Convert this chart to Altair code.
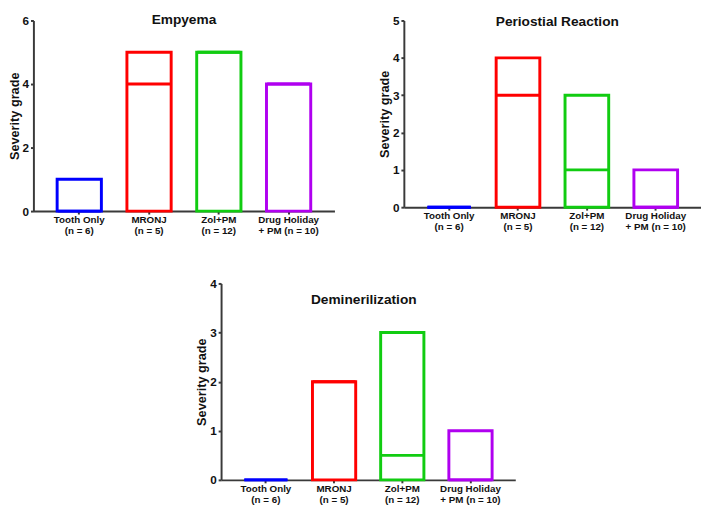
import altair as alt
import pandas as pd

groups = ["Tooth Only", "MRONJ", "Zol+PM", "Drug Holiday"]
group_labels = ["Tooth Only|(n = 6)", "MRONJ|(n = 5)", "Zol+PM|(n = 12)", "Drug Holiday|+ PM (n = 10)"]
colors = ["#0000FF", "#FF0000", "#11CC11", "#B000F0"]

# Empyema
emp_min = [0, 0, 0, 0]
emp_max = [1, 5, 5, 4]
emp_med = [0, 4, 5, 4]
emp_ticks = [0, 2, 4, 6]
# Periostial Reaction
per_min = [0, 0, 0, 0]
per_max = [0, 4, 3, 1]
per_med = [0, 3, 1, 0]
per_ticks = [0, 1, 2, 3, 4, 5]
# Deminerilization
dem_min = [0, 0, 0, 0]
dem_max = [0, 2, 3, 1]
dem_med = [0, 2, 0.5, 0]
dem_ticks = [0, 1, 2, 3, 4]

FONT = "Liberation Sans"
AX = "#3a3a3a"


def panel(title, lo, hi, med, ticks, w, h, tx, ty):
    df = pd.DataFrame({"group": group_labels, "lo": lo, "hi": hi, "med": med})
    xenc = alt.X(
        "group:N",
        sort=group_labels,
        scale=alt.Scale(paddingInner=0.366, paddingOuter=0.34),
        axis=alt.Axis(
            title=None,
            labelAngle=0,
            labelExpr="split(datum.label, '|')",
            labelFontSize=10,
            labelLineHeight=11,
            labelFontWeight="bold",
            labelFont=FONT,
            labelColor="#111",
            labelPadding=1,
            tickSize=3,
        ),
    )
    yscale = alt.Scale(domain=[0, max(ticks)], nice=False)
    yaxis = alt.Axis(
        values=ticks,
        format="d",
        title="Severity grade",
        titleFontSize=13,
        titleFontWeight="bold",
        titleFont=FONT,
        titleColor="#111",
        titlePadding=1,
        labelFontSize=12,
        labelFontWeight="bold",
        labelFont=FONT,
        labelColor="#111",
        labelPadding=2,
        tickSize=3,
        grid=False,
    )
    cscale = alt.Scale(domain=group_labels, range=colors)
    base = alt.Chart(df).encode(x=xenc)
    bars = base.mark_bar(filled=False, strokeWidth=3).encode(
        y=alt.Y("lo:Q", scale=yscale, axis=yaxis),
        y2="hi:Q",
        color=alt.Color("group:N", scale=cscale, legend=None),
    )
    meds = base.mark_tick(thickness=3, size=44, orient="horizontal", opacity=1).encode(
        y=alt.Y("med:Q", scale=yscale, axis=yaxis),
        color=alt.Color("group:N", scale=cscale, legend=None),
    )
    ttl = alt.Chart(pd.DataFrame({"t": [title]})).mark_text(
        fontSize=14, fontWeight="bold", font=FONT, color="#111", align="center", baseline="middle"
    ).encode(text="t:N", x=alt.value(tx), y=alt.value(ty))
    return alt.layer(bars, meds, ttl).properties(width=w, height=h)


p1 = panel("Empyema", emp_min, emp_max, emp_med, emp_ticks, 308, 195, 154, 0)
p2 = panel("Periostial Reaction", per_min, per_max, per_med, per_ticks, 304, 191, 157, 2)
p3 = panel("Deminerilization", dem_min, dem_max, dem_med, dem_ticks, 301, 201, 146, 17)

spacer = alt.Chart(pd.DataFrame({"a": [0]})).mark_point(opacity=0).encode(
    x=alt.value(0), y=alt.value(0)
).properties(width=166, height=10)

top = alt.hconcat(p1, p2, spacing=45)
bottom = alt.hconcat(spacer, p3, spacing=0)
chart = alt.vconcat(top, bottom, spacing=43).properties(
    padding=0
).configure_view(stroke=None).configure_axis(
    domainColor=AX, domainWidth=2, tickColor=AX, tickWidth=2
)

chart.save("out.html", embed_options={"renderer": "svg", "actions": False})
